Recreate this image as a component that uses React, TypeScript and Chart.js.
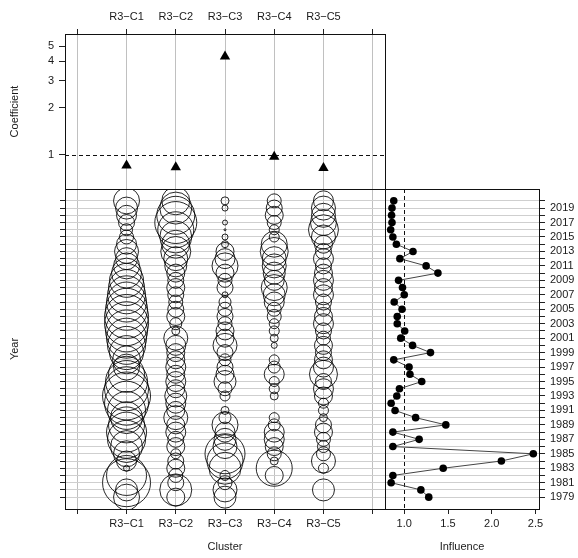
import React, { useEffect, useRef } from 'react';
import { Chart, registerables } from 'chart.js';

Chart.register(...registerables);

// ---------- data ----------
const CLUSTERS = ['R3−C1', 'R3−C2', 'R3−C3', 'R3−C4', 'R3−C5'];
const CLUSTER_TICKS = [0, 1, 2, 3, 4, 5, 6];
const COEFFICIENTS = [0.85, 0.83, 4.3, 0.97, 0.82];
const COEF_TICKS = [1, 2, 3, 4, 5];

const YEARS = [
  2020, 2019, 2018, 2017, 2016, 2015, 2014, 2013, 2012, 2011,
  2010, 2009, 2008, 2007, 2006, 2005, 2004, 2003, 2002, 2001,
  2000, 1999, 1998, 1997, 1996, 1995, 1994, 1993, 1992, 1991,
  1990, 1989, 1988, 1987, 1986, 1985, 1984, 1983, 1982, 1981,
  1980, 1979,
];

const INFLUENCE = [
  0.88, 0.86, 0.855, 0.86, 0.845, 0.87, 0.91, 1.10, 0.95, 1.25,
  1.385, 0.935, 0.98, 1.00, 0.885, 0.975, 0.92, 0.92, 1.005, 0.96,
  1.095, 1.30, 0.88, 1.055, 1.065, 1.20, 0.945, 0.915, 0.85, 0.895,
  1.13, 1.475, 0.87, 1.17, 0.87, 2.475, 2.11, 1.445, 0.87, 0.85,
  1.19, 1.28,
];
const INFLUENCE_TICKS = [1.0, 1.5, 2.0, 2.5];

// relative bubble sizes per cluster, aligned with YEARS
const SIZE_C1 = [
  13, 11, 10, 8, 6, 7, 10, 12, 11, 13,
  15, 17, 18, 19, 20, 21, 22, 22, 21, 20,
  19, 17, 14, 13, 18, 21, 22, 24, 22, 19,
  16, 18, 20, 19, 16, 13, 10, 3, 20, 24,
  11, 13,
];
const SIZE_C2 = [
  14, 16, 19, 21, 18, 16, 14, 15, 12, 11,
  9, 8, 9, 8, 7, 8, 9, 6, 4, 12,
  10, 9, 9, 10, 9, 10, 9, 11, 10, 9,
  12, 9, 10, 8, 9, 5, 8, 9, 7, 8,
  16, 9,
];
const SIZE_C3 = [
  4, 3, 0, 2.5, 1, 3, 3.5, 9, 10, 13,
  9, 7, 8, 3, 6, 7, 8, 7, 9, 9,
  12, 8, 6, 8, 9, 11, 7, 5, 0, 4,
  6, 13, 10, 11, 12, 20, 18, 16, 5, 7,
  12, 11,
];
const SIZE_C4 = [
  7, 8, 9, 7, 5, 5, 13, 14, 12, 12,
  11, 10, 13, 11, 10, 7, 7, 5, 5, 4,
  3, 0, 5, 6, 10, 5, 5, 4, 0, 0,
  5, 6, 10, 10, 9, 7, 4, 18, 9, 0,
  0, 0,
];
const SIZE_C5 = [
  10, 12, 12, 13, 15, 12, 9, 8, 10, 8,
  9, 10, 9, 10, 8, 7, 9, 10, 8, 7,
  9, 8, 9, 10, 14, 8, 10, 9, 5, 5,
  4, 8, 9, 7, 6, 7, 12, 5, 0, 0,
  11, 0,
];
const SIZES = [SIZE_C1, SIZE_C2, SIZE_C3, SIZE_C4, SIZE_C5];

// ---------- styling ----------
const W = 578;
const H = 558;
const FONT = { family: '"Liberation Sans", Arial, Helvetica, sans-serif', size: 11 };
const TEXT = '#1a1a1a';
const TICK = '#222';
const GRID = '#c0c0c0';
const BUBBLE_SCALE = 1;

const yearsAsc = [...YEARS].sort((a, b) => a - b);
const YEAR_MIN = 1977.36;
const YEAR_MAX = 2021.64;

function makeFramePlugin(ref: { h?: number; v?: number }) {
  return {
    id: 'frame',
    beforeDatasetsDraw(chart: any) {
      const { ctx, chartArea: a, scales } = chart;
      ctx.save();
      ctx.strokeStyle = '#111';
      ctx.lineWidth = 1;
      ctx.setLineDash([4, 3]);
      ctx.beginPath();
      if (ref.h !== undefined) {
        const y = Math.round(scales.y.getPixelForValue(ref.h)) + 0.5;
        ctx.moveTo(a.left, y);
        ctx.lineTo(a.right, y);
      }
      if (ref.v !== undefined) {
        const x = Math.round(scales.x.getPixelForValue(ref.v)) + 0.5;
        ctx.moveTo(x, a.top);
        ctx.lineTo(x, a.bottom);
      }
      ctx.stroke();
      ctx.restore();
    },
    afterDraw(chart: any) {
      const { ctx, chartArea: a } = chart;
      ctx.save();
      ctx.strokeStyle = '#111';
      ctx.lineWidth = 1;
      ctx.strokeRect(
        Math.round(a.left) + 0.5,
        Math.round(a.top) + 0.5,
        Math.round(a.right - a.left),
        Math.round(a.bottom - a.top)
      );
      ctx.restore();
    },
  };
}

const clusterLabel = (v: any) => CLUSTERS[Number(v) - 1] ?? '';

export default function App() {
  const c1 = useRef<HTMLCanvasElement>(null);
  const c2 = useRef<HTMLCanvasElement>(null);
  const c3 = useRef<HTMLCanvasElement>(null);

  useEffect(() => {
    const common = {
      animation: false as const,
      responsive: false,
      devicePixelRatio: 1,
      events: [] as any[],
    };
    const noPlugins = { legend: { display: false }, tooltip: { enabled: false } };

    // ---- top: coefficients ----
    const chart1 = new Chart(c1.current!, {
      type: 'scatter',
      data: {
        datasets: [
          {
            data: COEFFICIENTS.map((c, i) => ({ x: i + 1, y: c })),
            pointStyle: 'triangle',
            pointRadius: 6,
            backgroundColor: '#000',
            borderColor: '#000',
            borderWidth: 0,
          },
        ],
      },
      options: {
        ...common,
        layout: { padding: { left: 0, top: 0, right: W - 385, bottom: H - 189 } },
        plugins: noPlugins,
        scales: {
          x: {
            type: 'linear',
            position: 'top',
            min: -0.25,
            max: 6.25,
            afterBuildTicks: (s: any) => {
              s.ticks = CLUSTER_TICKS.map((v) => ({ value: v }));
            },
            afterFit: (s: any) => {
              s.height = 34;
            },
            ticks: { callback: clusterLabel, padding: 5.4, maxRotation: 0, minRotation: 0, autoSkip: false, color: TEXT, font: FONT },
            grid: { color: GRID, lineWidth: 1, tickLength: 5, tickColor: TICK, drawOnChartArea: true },
            border: { display: false },
          },
          y: {
            type: 'logarithmic',
            position: 'left',
            min: 0.603,
            max: 6.0,
            afterBuildTicks: (s: any) => {
              s.ticks = COEF_TICKS.map((v) => ({ value: v }));
            },
            afterFit: (s: any) => {
              s.width = 65;
            },
            ticks: { callback: (v: any) => String(v), padding: 5, autoSkip: false, color: TEXT, font: FONT },
            grid: { drawOnChartArea: false, tickLength: 6, tickColor: TICK },
            border: { display: false },
            title: { display: true, text: 'Coefficient', padding: { top: 8.4, bottom: 0 }, color: TEXT, font: FONT },
          },
        },
      } as any,
      plugins: [makeFramePlugin({ h: 1 })],
    });

    // ---- bottom left: bubbles ----
    const chart2 = new Chart(c2.current!, {
      type: 'bubble',
      data: {
        datasets: SIZES.map((sizes, k) => ({
          data: YEARS.map((y, i) => ({ x: k + 1, y, r: sizes[i] * BUBBLE_SCALE })).filter((d) => d.r > 0),
          backgroundColor: 'rgba(0,0,0,0)',
          borderColor: 'rgba(0,0,0,0.85)',
          borderWidth: 1,
          clip: 0,
        })),
      },
      options: {
        ...common,
        layout: { padding: { left: 0, top: 189, right: W - 385, bottom: 0 } },
        plugins: noPlugins,
        scales: {
          x: {
            type: 'linear',
            position: 'bottom',
            min: -0.25,
            max: 6.25,
            afterBuildTicks: (s: any) => {
              s.ticks = CLUSTER_TICKS.map((v) => ({ value: v }));
            },
            afterFit: (s: any) => {
              s.height = H - 509;
            },
            ticks: { callback: clusterLabel, padding: 3.5, maxRotation: 0, minRotation: 0, autoSkip: false, color: TEXT, font: FONT },
            grid: { color: GRID, lineWidth: 1, tickLength: 5, tickColor: TICK },
            border: { display: false },
            title: { display: true, text: 'Cluster', padding: { top: 0, bottom: 4.4 }, color: TEXT, font: FONT },
          },
          y: {
            type: 'linear',
            position: 'left',
            min: YEAR_MIN,
            max: YEAR_MAX,
            afterBuildTicks: (s: any) => {
              s.ticks = yearsAsc.map((v) => ({ value: v }));
            },
            afterFit: (s: any) => {
              s.width = 65;
            },
            ticks: { callback: () => '', padding: 3, autoSkip: false, color: TEXT, font: FONT },
            grid: { color: '#cfcfcf', lineWidth: 1, tickLength: 5, tickColor: TICK },
            border: { display: false },
            title: { display: true, text: 'Year', padding: { top: 8.4, bottom: 0 }, color: TEXT, font: FONT },
          },
        },
      } as any,
      plugins: [makeFramePlugin({})],
    });

    // ---- bottom right: influence ----
    const chart3 = new Chart(c3.current!, {
      type: 'scatter',
      data: {
        datasets: [
          {
            data: YEARS.map((y, i) => ({ x: INFLUENCE[i], y })),
            showLine: true,
            borderColor: '#444',
            borderWidth: 1,
            pointRadius: 3.8,
            pointBackgroundColor: '#000',
            pointBorderColor: '#000',
            pointBorderWidth: 0,
          },
        ],
      },
      options: {
        ...common,
        layout: { padding: { left: 385, top: 189, right: 0, bottom: 0 } },
        plugins: noPlugins,
        scales: {
          x: {
            type: 'linear',
            position: 'bottom',
            min: 0.78,
            max: 2.54,
            afterBuildTicks: (s: any) => {
              s.ticks = INFLUENCE_TICKS.map((v) => ({ value: v }));
            },
            afterFit: (s: any) => {
              s.height = H - 509;
            },
            ticks: { callback: (v: any) => Number(v).toFixed(1), padding: 3.5, maxRotation: 0, minRotation: 0, autoSkip: false, color: TEXT, font: FONT },
            grid: { drawOnChartArea: false, tickLength: 5, tickColor: TICK },
            border: { display: false },
            title: { display: true, text: 'Influence', padding: { top: 0, bottom: 4.4 }, color: TEXT, font: FONT },
          },
          y: {
            type: 'linear',
            position: 'right',
            min: YEAR_MIN,
            max: YEAR_MAX,
            afterBuildTicks: (s: any) => {
              s.ticks = yearsAsc.map((v) => ({ value: v }));
            },
            afterFit: (s: any) => {
              s.width = W - 539;
            },
            ticks: { callback: (v: any) => (Number(v) % 2 === 1 ? String(v) : ''), padding: 5, autoSkip: false, color: TEXT, font: FONT },
            grid: { color: '#cfcfcf', lineWidth: 1, tickLength: 6, tickColor: TICK },
            border: { display: false },
          },
        },
      } as any,
      plugins: [makeFramePlugin({ v: 1 })],
    });

    return () => {
      chart1.destroy();
      chart2.destroy();
      chart3.destroy();
    };
  }, []);

  const cs: React.CSSProperties = { position: 'absolute', left: 0, top: 0 };
  return (
    <div style={{ position: 'fixed', left: 0, top: 0, width: W, height: H, background: '#fff' }}>
      <canvas ref={c1} width={W} height={H} style={cs} />
      <canvas ref={c2} width={W} height={H} style={cs} />
      <canvas ref={c3} width={W} height={H} style={cs} />
    </div>
  );
}
